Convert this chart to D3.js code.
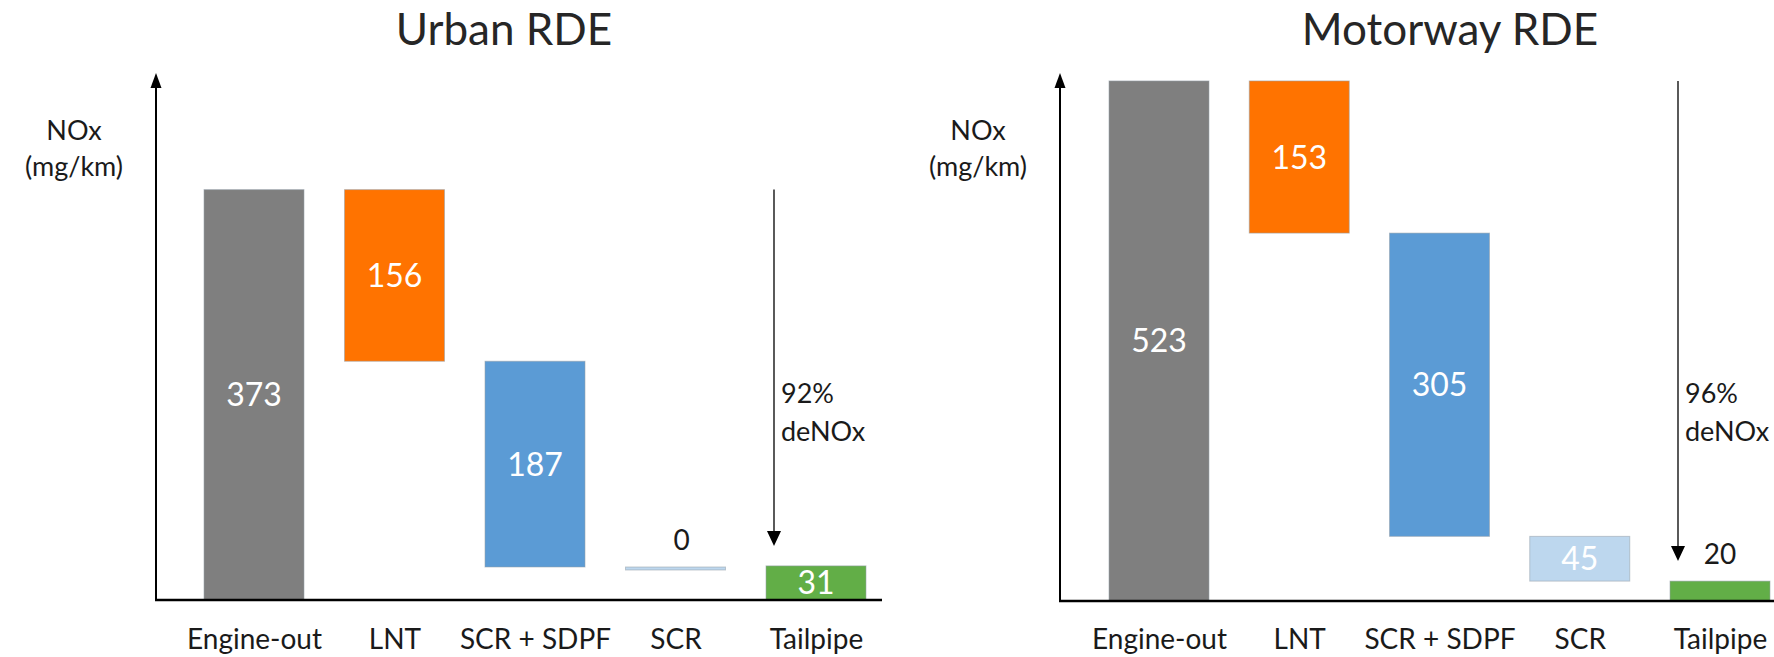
<!DOCTYPE html>
<html>
<head>
<meta charset="utf-8">
<script src="https://cdn.jsdelivr.net/npm/d3@7"></script>
<style>
  html, body { margin: 0; padding: 0; background: #ffffff; }
  svg { display: block; }
  text { font-family: Lato, "Noto Sans", sans-serif; }
</style>
</head>
<body>
<svg id="chart" width="1774" height="657"></svg>
<script>
// ---- data ----
const categories = ["Engine-out", "LNT", "SCR + SDPF", "SCR", "Tailpipe"];
const urbanValues = [373, 156, 187, 0, 31];
const motorwayValues = [523, 153, 305, 45, 20];
const panelTitles = ["Urban RDE", "Motorway RDE"];
const deNOxLabels = ["92%", "96%"];
const yAxisLabel = ["NOx", "(mg/km)"];
const barColors = ["#7f7f7f", "#ff7300", "#5b9bd5", "#bdd7ee", "#62ae47"];

// ---- layout ----
const svg = d3.select("#chart");
const panels = [
  { title: panelTitles[0], values: urbanValues, deNOx: deNOxLabels[0],
    axisX: 156, axisTop: 73, axisY: 600, axisRight: 882, yMax: 479,
    xFirst: 254, xLast: 816, titleX: 504 },
  { title: panelTitles[1], values: motorwayValues, deNOx: deNOxLabels[1],
    axisX: 1060, axisTop: 73, axisY: 601, axisRight: 1774, yMax: 531,
    xFirst: 1159, xLast: 1720, titleX: 1450 }
];
const barW = 100;

function waterfall(values) {
  const out = [];
  let running = 0;
  values.forEach((v, i) => {
    if (i === 0) { out.push({ lo: 0, hi: v, v }); running = v; }
    else if (i === values.length - 1) { out.push({ lo: 0, hi: v, v }); }
    else { out.push({ lo: running - v, hi: running, v }); running -= v; }
  });
  return out;
}

panels.forEach(p => {
  const g = svg.append("g");
  const x = d3.scalePoint().domain(categories).range([p.xFirst, p.xLast]);
  const y = d3.scaleLinear().domain([0, p.yMax]).range([p.axisY, p.axisTop]);
  const steps = waterfall(p.values);

  // title
  g.append("text").attr("x", p.titleX).attr("y", 45)
    .attr("text-anchor", "middle").attr("font-size", 44)
    .attr("fill", "#262626").text(p.title);

  // y label
  yAxisLabel.forEach((t, i) => {
    g.append("text").attr("x", p.axisX - 82).attr("y", 140 + i * 36)
      .attr("text-anchor", "middle").attr("font-size", 27)
      .attr("fill", "#1a1a1a").text(t);
  });

  // bars
  g.selectAll("rect.bar").data(steps).join("rect")
    .attr("class", "bar")
    .attr("x", (d, i) => x(categories[i]) - barW / 2)
    .attr("width", barW)
    .attr("y", d => y(d.hi))
    .attr("height", d => Math.max(3, y(d.lo) - y(d.hi)))
    .attr("fill", (d, i) => barColors[i])
    .attr("stroke", "rgba(150,160,170,0.55)")
    .attr("stroke-width", 1);

  // value labels
  steps.forEach((d, i) => {
    const cx = x(categories[i]);
    const h = y(d.lo) - y(d.hi);
    if (h > 30) {
      g.append("text").attr("x", cx).attr("y", (y(d.lo) + y(d.hi)) / 2)
        .attr("dy", "0.36em").attr("text-anchor", "middle")
        .attr("font-size", 32).attr("fill", "#ffffff").text(d.v);
    } else {
      g.append("text").attr("x", cx + (i === 3 ? 6 : 0)).attr("y", y(d.hi) - 17)
        .attr("text-anchor", "middle")
        .attr("font-size", 28).attr("fill", "#1a1a1a").text(d.v);
    }
  });

  // axes lines
  g.append("line").attr("x1", p.axisX).attr("x2", p.axisX)
    .attr("y1", p.axisY + 1).attr("y2", p.axisTop + 10)
    .attr("stroke", "#000").attr("stroke-width", 2);
  g.append("path")
    .attr("d", `M${p.axisX - 5.5},${p.axisTop + 15} L${p.axisX + 5.5},${p.axisTop + 15} L${p.axisX},${p.axisTop} Z`)
    .attr("fill", "#000");
  g.append("line").attr("x1", p.axisX - 1).attr("x2", p.axisRight)
    .attr("y1", p.axisY).attr("y2", p.axisY)
    .attr("stroke", "#000").attr("stroke-width", 2.5);

  // category labels via axis
  const xAxis = d3.axisBottom(x).tickSize(0).tickPadding(0);
  const ax = g.append("g").attr("transform", `translate(0,${p.axisY})`).call(xAxis);
  ax.select(".domain").remove();
  ax.selectAll("text").attr("font-size", 28).attr("fill", "#1a1a1a")
    .attr("font-family", "Lato, 'Noto Sans', sans-serif")
    .attr("dy", null).attr("y", 649 - p.axisY);

  // deNOx arrow
  const last = categories[categories.length - 1];
  const arrowX = x(last) - 42;
  const arrowTop = y(p.values[0]);
  const arrowTip = y(p.values[p.values.length - 1]) - 20;
  g.append("line").attr("x1", arrowX).attr("x2", arrowX)
    .attr("y1", arrowTop).attr("y2", arrowTip - 12)
    .attr("stroke", "#000").attr("stroke-width", 1.3);
  g.append("path")
    .attr("d", `M${arrowX - 7},${arrowTip - 15} L${arrowX + 7},${arrowTip - 15} L${arrowX},${arrowTip} Z`)
    .attr("fill", "#000");
  g.append("text").attr("x", arrowX + 7).attr("y", 403)
    .attr("font-size", 27).attr("fill", "#1a1a1a").text(p.deNOx);
  g.append("text").attr("x", arrowX + 7).attr("y", 441)
    .attr("font-size", 27).attr("fill", "#1a1a1a").text("deNOx");
});
</script>
</body>
</html>
